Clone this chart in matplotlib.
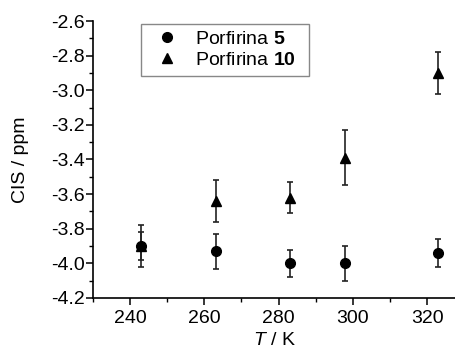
import numpy as np
import matplotlib
matplotlib.use("Agg")
import matplotlib.pyplot as plt
from matplotlib.ticker import MultipleLocator

plt.rcParams['font.family'] = ['Liberation Sans', 'DejaVu Sans']
plt.rcParams['mathtext.fontset'] = 'custom'
plt.rcParams['mathtext.rm'] = 'Liberation Sans'
plt.rcParams['mathtext.it'] = 'Liberation Sans:italic'
plt.rcParams['mathtext.bf'] = 'Liberation Sans:bold'

# Datos
temp = [243, 263, 283, 298, 323]
cis_5 = [-3.90, -3.93, -4.00, -4.00, -3.94]
err_5 = [0.08, 0.10, 0.08, 0.10, 0.08]
cis_10 = [-3.90, -3.64, -3.62, -3.39, -2.90]
err_10 = [0.12, 0.12, 0.09, 0.16, 0.12]
yticks = [-4.2, -4.0, -3.8, -3.6, -3.4, -3.2, -3.0, -2.8, -2.6]

fig = plt.figure(figsize=(4.56, 3.56), dpi=100)
ax = fig.add_axes([0.204, 0.163, 0.796, 0.778])

# Barras de error
ax.errorbar(temp, cis_5, yerr=err_5, fmt='none', ecolor='#222222',
            elinewidth=1.2, capsize=2.5, capthick=1.2)
ax.errorbar(temp, cis_10, yerr=err_10, fmt='none', ecolor='#222222',
            elinewidth=1.2, capsize=2.5, capthick=1.2)

# Marcadores
ax.plot(temp, cis_5, 'o', color='black', ms=7, label=r'Porfirina $\mathbf{5}$  ')
ax.plot(temp, cis_10, '^', color='black', ms=7.5, label=r'Porfirina $\mathbf{10}$  ')

ax.set_xlim(230, 327.8)
ax.set_ylim(-4.2, -2.6)
ax.xaxis.set_major_locator(MultipleLocator(20))
ax.xaxis.set_minor_locator(MultipleLocator(10))
ax.yaxis.set_minor_locator(MultipleLocator(0.1))
ax.set_yticks(yticks)
ax.set_yticklabels(['%.1f' % v for v in yticks])

ax.spines['top'].set_visible(False)
ax.spines['right'].set_visible(False)
ax.spines['left'].set_linewidth(1.2)
ax.spines['bottom'].set_linewidth(1.2)
ax.tick_params(which='major', direction='out', length=5, width=1.1, labelsize=14)
ax.tick_params(axis='y', which='major', pad=1)
ax.tick_params(which='minor', direction='out', length=3, width=1.0)

ax.set_xlabel(r'$\mathit{T}$ / K', fontsize=14, labelpad=4)
ax.set_ylabel('CIS / ppm', fontsize=14, labelpad=16)

leg = ax.legend(loc='upper left', bbox_to_anchor=(0.309, 0.933),
                bbox_transform=fig.transFigure, fontsize=14,
                fancybox=False, edgecolor='#888888', framealpha=1,
                handlelength=1.98, handletextpad=0.45, borderpad=0.35,
                borderaxespad=0, labelspacing=0.15, handleheight=0.7)
leg.get_frame().set_linewidth(1.0)

plt.savefig('out.png', dpi=100)
